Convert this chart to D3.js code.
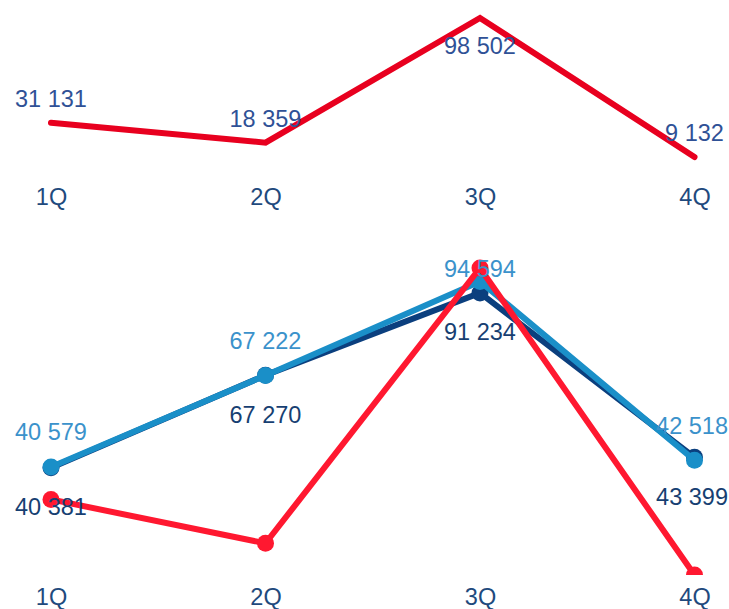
<!DOCTYPE html>
<html><head><meta charset="utf-8">
<script src="https://cdn.jsdelivr.net/npm/d3@7"></script>
<style>html,body{margin:0;padding:0;background:#fff;}svg{display:block;font-family:"Liberation Sans",Arial,sans-serif;}</style>
</head><body><svg id="c" width="729" height="609"></svg>
<script>
const categories = ["1Q","2Q","3Q","4Q"];
const redValues = [31131, 18359, 98502, 9132];
const navyValues = [40381, 67270, 91234, 43399];
const lightValues = [40579, 67222, 94594, 42518];

const W = 729;
const FS = 23.5;
const svg = d3.select("#c");
const fmt = v => d3.format(",")(v).replace(/,/g, " ");
const x = d3.scalePoint().domain(categories).range([51, 694.5]);
const all = redValues.concat(navyValues, lightValues);
const yTop = d3.scaleLinear().domain(d3.extent(redValues)).range([157, 18]);
const yBot = d3.scaleLinear().domain(d3.extent(all)).range([575, 268]);

function addLabels(g, vals, yfn, color, off, minY) {
  vals.forEach((v, i) => {
    let yy = yfn(v) + off;
    if (minY !== undefined) yy = Math.max(yy, minY);
    const t = g.append("text").attr("y", yy).attr("dy", "0.35em")
      .attr("font-size", FS).attr("fill", color).attr("text-anchor", "middle")
      .text(fmt(v));
    const w = t.node().getComputedTextLength();
    let cx = x(categories[i]);
    cx = Math.min(cx, W - 1 - w / 2);
    t.attr("x", cx);
  });
}

// ---- Top chart ----
const gTop = svg.append("g");
const lineTop = d3.line().x((d, i) => x(categories[i])).y(d => yTop(d));
gTop.append("path").datum(redValues).attr("d", lineTop)
  .attr("fill", "none").attr("stroke", "#e8001f").attr("stroke-width", 6)
  .attr("stroke-linejoin", "miter").attr("stroke-linecap", "round");
addLabels(gTop, redValues, yTop, "#2f5196", -24, 46);
const axTop = d3.axisBottom(x).tickSize(0).tickPadding(0);
gTop.append("g").attr("transform", "translate(0,197)").call(axTop)
  .call(g => g.select(".domain").remove())
  .selectAll("text").attr("font-size", FS).attr("fill", "#1f4a7d")
  .attr("font-family", "Liberation Sans, Arial, sans-serif").attr("dy", "0.35em").attr("y", 0);

// ---- Bottom chart ----
const defs = svg.append("defs");
defs.append("clipPath").attr("id", "clipB").append("rect")
  .attr("x", 0).attr("y", 230).attr("width", W).attr("height", 345);
const gBot = svg.append("g");
const plot = gBot.append("g").attr("clip-path", "url(#clipB)");
const lineBot = d3.line().x((d, i) => x(categories[i])).y(d => yBot(d));

function series(vals, color) {
  const g = plot.append("g");
  g.append("path").datum(vals).attr("d", lineBot)
    .attr("fill", "none").attr("stroke", color).attr("stroke-width", 6)
    .attr("stroke-linejoin", "miter");
  g.selectAll("circle").data(vals).enter().append("circle")
    .attr("cx", (d, i) => x(categories[i])).attr("cy", d => yBot(d))
    .attr("r", 8.5).attr("fill", color);
  return g;
}
series(navyValues, "#0b3f7e");
series(lightValues, "#1a8fc8");
addLabels(gBot, lightValues, yBot, "#3b92cb", -35, 269);
series(redValues, "#ff1830");
addLabels(gBot, navyValues, yBot, "#173f72", 39);

const axBot = d3.axisBottom(x).tickSize(0).tickPadding(0);
gBot.append("g").attr("transform", "translate(0,597)").call(axBot)
  .call(g => g.select(".domain").remove())
  .selectAll("text").attr("font-size", FS).attr("fill", "#1f4a7d")
  .attr("font-family", "Liberation Sans, Arial, sans-serif").attr("dy", "0.35em").attr("y", 0);
</script></body></html>
